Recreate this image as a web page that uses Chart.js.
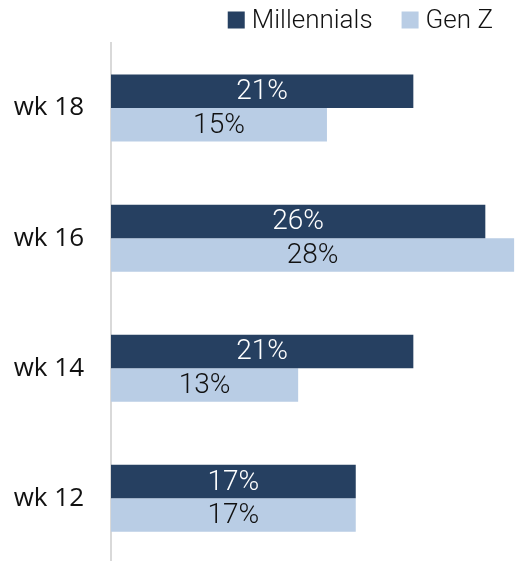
<!DOCTYPE html>
<html>
<head>
<meta charset="utf-8">
<script src="https://cdn.jsdelivr.net/npm/chart.js@4/dist/chart.umd.min.js"></script>
<style>
html,body{margin:0;padding:0;background:#fff;overflow:hidden;}
canvas{display:block;}
</style>
</head>
<body>
<canvas id="c" width="517" height="606"></canvas>
<script>
const categories = ['wk 18', 'wk 16', 'wk 14', 'wk 12'];
const millennials = [21, 26, 21, 17];
const genZ = [15, 28, 13, 17];
const seriesNames = ['Millennials', 'Gen Z'];

const DARK = '#264061';
const LIGHT = '#B9CDE5';
const LABEL_FONT = "'Roboto', 'DejaVu Sans', sans-serif";

const barLabels = {
  id: 'barLabels',
  afterDatasetsDraw(chart) {
    const ctx = chart.ctx;
    ctx.save();
    ctx.font = '300 28px ' + LABEL_FONT;
    ctx.textAlign = 'center';
    ctx.textBaseline = 'middle';
    chart.data.datasets.forEach((ds, i) => {
      const meta = chart.getDatasetMeta(i);
      ctx.fillStyle = i === 0 ? '#ffffff' : '#111111';
      meta.data.forEach((bar, j) => {
        const x = (bar.x + bar.base) / 2;
        ctx.fillText(ds.data[j] + '%', x, bar.y + 1);
      });
    });
    ctx.restore();
  }
};

const topLegend = {
  id: 'topLegend',
  afterDraw(chart) {
    const ctx = chart.ctx;
    ctx.save();
    ctx.font = '300 26px ' + LABEL_FONT;
    ctx.textBaseline = 'middle';
    ctx.textAlign = 'left';
    const box = 17, gap = 7, itemGap = 29, yMid = 20;
    const ds = chart.data.datasets;
    let total = 0;
    const widths = ds.map(d => ctx.measureText(d.label).width);
    widths.forEach((w, i) => { total += box + gap + w + (i < ds.length - 1 ? itemGap : 0); });
    let x = 493 - total;
    ds.forEach((d, i) => {
      ctx.fillStyle = d.backgroundColor;
      ctx.fillRect(x, yMid - box / 2, box, box);
      x += box + gap;
      ctx.fillStyle = '#111111';
      ctx.fillText(d.label, x, yMid + 1);
      x += widths[i] + itemGap;
    });
    ctx.restore();
  }
};

new Chart(document.getElementById('c'), {
  type: 'bar',
  data: {
    labels: categories,
    datasets: [
      { label: seriesNames[0], data: millennials, backgroundColor: DARK, borderWidth: 0,
        categoryPercentage: 0.515, barPercentage: 1.0 },
      { label: seriesNames[1], data: genZ, backgroundColor: LIGHT, borderWidth: 0,
        categoryPercentage: 0.515, barPercentage: 1.0 }
    ]
  },
  options: {
    indexAxis: 'y',
    responsive: false,
    animation: false,
    layout: { padding: { top: 43, right: 0, bottom: 0, left: 0 } },
    plugins: {
      legend: { display: false },
      tooltip: { enabled: false }
    },
    scales: {
      x: { display: false, min: 0, max: 28.2 },
      y: {
        grid: { display: false, drawTicks: false },
        border: { display: true, color: '#D9D9D9', width: 2 },
        ticks: { color: '#111111', font: { family: "'Open Sans', sans-serif", size: 26 }, padding: 27 },
        afterFit(scale) { scale.width = 111; }
      }
    }
  },
  plugins: [barLabels, topLegend]
});
</script>
</body>
</html>
